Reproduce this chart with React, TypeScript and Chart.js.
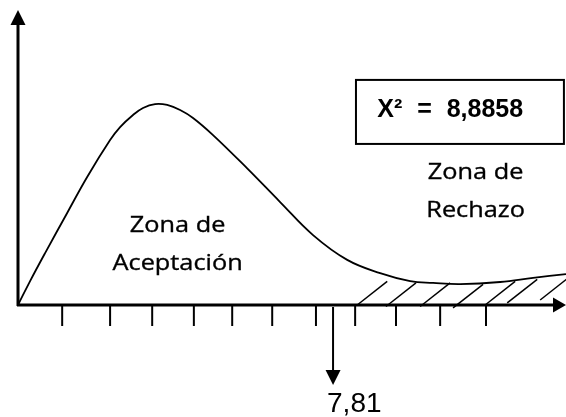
import { useEffect, useRef } from "react";
import { Chart, registerables } from "chart.js";

Chart.register(...registerables);

// ---- data (abstract axis units) ----
const curveX = [0, 0.29, 0.65, 1.18, 1.66, 2.21, 2.45, 2.76, 3.0, 3.29, 3.58, 3.89, 4.2, 4.68, 5.5, 6.29, 7.08, 7.9, 8.69, 9.41, 9.96, 10.61, 11.57, 12.36, 13.15];
const curveY = [0, 0.81, 1.76, 3.12, 4.34, 5.59, 6.03, 6.44, 6.68, 6.81, 6.78, 6.61, 6.34, 5.76, 4.63, 3.49, 2.37, 1.53, 1.08, 0.81, 0.75, 0.71, 0.78, 0.92, 1.05];
const tickX = [1.06, 2.21, 3.22, 4.22, 5.14, 6.1, 7.15, 8.09, 9.07, 10.13, 11.23];
const hatchX = [8.14, 8.83, 9.65, 10.44, 11.21, 11.74, 12.53];
const hatchY = [0, -0.05, -0.05, -0.1, 0, 0.07, 0.17];
const criticalX = 7.56;
const criticalLabel = "7,81";
const statLabel = "X² = 8,8858";
const acceptLabel = ["Zona de", "Aceptación"];
const rejectLabel = ["Zona de", "Rechazo"];

// ---- layout / style constants ----
const X_MAX = 13.15;
const Y_MAX = 10;
const HATCH_DX = 0.72;
const HATCH_DY = 0.8;
const BOX = { x0: 8.11, x1: 13.1, yTop: 7.63, yBot: 5.46 };
const STAT_POS = { x: 8.62, y: 6.37 };
const ACCEPT_POS = { x: 3.83, y: 2.47, y2: 1.19 };
const REJECT_POS = { x: 10.98, y: 4.27, y2: 2.98 };
const SANS = "'Open Sans', 'Noto Sans', sans-serif";
const TEXT_SCALE_X = 1.15;

function drawStretched(ctx: CanvasRenderingContext2D, text: string, cx: number, by: number) {
  ctx.save();
  ctx.translate(cx, by);
  ctx.scale(TEXT_SCALE_X, 1);
  ctx.textAlign = "center";
  ctx.textBaseline = "alphabetic";
  ctx.fillText(text, 0, 0);
  ctx.lineWidth = 0.35;
  ctx.strokeText(text, 0, 0);
  ctx.restore();
}

const overlay = {
  id: "overlay",
  beforeDatasetsDraw(chart: any) {
    const { ctx, scales } = chart;
    const x = scales.x, y = scales.y;
    ctx.save();
    ctx.strokeStyle = "#000";
    ctx.lineWidth = 1.5;
    hatchX.forEach((hx, i) => {
      ctx.beginPath();
      ctx.moveTo(x.getPixelForValue(hx), y.getPixelForValue(hatchY[i]));
      ctx.lineTo(x.getPixelForValue(hx + HATCH_DX), y.getPixelForValue(hatchY[i] + HATCH_DY));
      ctx.stroke();
    });
    ctx.restore();
  },
  afterDatasetsDraw(chart: any) {
    const { ctx, scales } = chart;
    const x = scales.x, y = scales.y;
    const x0 = x.getPixelForValue(0);
    const y0 = y.getPixelForValue(0);
    const yTop = y.getPixelForValue(Y_MAX);
    const xEnd = x.getPixelForValue(X_MAX);
    ctx.save();
    ctx.strokeStyle = "#000";
    ctx.fillStyle = "#000";

    // y axis
    ctx.lineWidth = 3;
    ctx.beginPath();
    ctx.moveTo(x0, y0 + 1);
    ctx.lineTo(x0, yTop + 12);
    ctx.stroke();
    ctx.beginPath();
    ctx.moveTo(x0, yTop);
    ctx.lineTo(x0 - 7.5, yTop + 15);
    ctx.lineTo(x0 + 7.5, yTop + 15);
    ctx.closePath();
    ctx.fill();

    // x axis
    ctx.beginPath();
    ctx.moveTo(x0 - 1, y0);
    ctx.lineTo(xEnd - 10, y0);
    ctx.stroke();
    ctx.beginPath();
    ctx.moveTo(xEnd, y0);
    ctx.lineTo(xEnd - 13, y0 - 7.5);
    ctx.lineTo(xEnd - 13, y0 + 7.5);
    ctx.closePath();
    ctx.fill();

    // ticks
    ctx.lineWidth = 2;
    tickX.forEach((t) => {
      const px = x.getPixelForValue(t);
      ctx.beginPath();
      ctx.moveTo(px, y0);
      ctx.lineTo(px, y0 + 21);
      ctx.stroke();
    });

    // critical value arrow
    const cx = x.getPixelForValue(criticalX);
    ctx.beginPath();
    ctx.moveTo(cx, y0 + 2);
    ctx.lineTo(cx, y0 + 67);
    ctx.stroke();
    ctx.beginPath();
    ctx.moveTo(cx, y0 + 80);
    ctx.lineTo(cx - 7.5, y0 + 65);
    ctx.lineTo(cx + 7.5, y0 + 65);
    ctx.closePath();
    ctx.fill();
    ctx.font = "28px 'Liberation Sans', Arial, sans-serif";
    ctx.textAlign = "left";
    ctx.textBaseline = "alphabetic";
    ctx.fillText(criticalLabel, cx - 6, y0 + 107);

    // statistic box
    const bx0 = x.getPixelForValue(BOX.x0);
    const bx1 = x.getPixelForValue(BOX.x1);
    const by0 = y.getPixelForValue(BOX.yTop);
    const by1 = y.getPixelForValue(BOX.yBot);
    ctx.lineWidth = 2;
    ctx.strokeRect(bx0, by0, bx1 - bx0, by1 - by0);
    ctx.font = "bold 25px 'Liberation Sans', Arial, sans-serif";
    (ctx as any).wordSpacing = "8px";
    ctx.fillText(statLabel, x.getPixelForValue(STAT_POS.x), y.getPixelForValue(STAT_POS.y));
    (ctx as any).wordSpacing = "0px";

    // zone labels
    ctx.font = `22px ${SANS}`;
    drawStretched(ctx, acceptLabel[0], x.getPixelForValue(ACCEPT_POS.x), y.getPixelForValue(ACCEPT_POS.y));
    drawStretched(ctx, acceptLabel[1], x.getPixelForValue(ACCEPT_POS.x), y.getPixelForValue(ACCEPT_POS.y2));
    drawStretched(ctx, rejectLabel[0], x.getPixelForValue(REJECT_POS.x), y.getPixelForValue(REJECT_POS.y));
    drawStretched(ctx, rejectLabel[1], x.getPixelForValue(REJECT_POS.x), y.getPixelForValue(REJECT_POS.y2));
    ctx.restore();
  },
};

export default function App() {
  const ref = useRef<HTMLCanvasElement>(null);
  useEffect(() => {
    const canvas = ref.current!;
    const chart = new Chart(canvas, {
      type: "line",
      data: {
        datasets: [
          {
            data: curveX.map((v, i) => ({ x: v, y: curveY[i] })),
            borderColor: "#000",
            borderWidth: 1.8,
            pointRadius: 0,
            tension: 0.4,
            fill: false,
            clip: false as any,
          },
        ],
      },
      options: {
        animation: false,
        responsive: false,
        devicePixelRatio: 1,
        layout: { padding: { left: 18, top: 10, right: 0, bottom: 112 } },
        scales: {
          x: { type: "linear", min: 0, max: X_MAX, display: false },
          y: { type: "linear", min: 0, max: Y_MAX, display: false },
        },
        plugins: { legend: { display: false }, tooltip: { enabled: false } },
        events: [],
      },
      plugins: [overlay],
    });
    return () => chart.destroy();
  }, []);
  return (
    <div style={{ position: "fixed", left: 0, top: 0, width: 566, height: 417, background: "#fff" }}>
      <canvas ref={ref} width={566} height={417} style={{ display: "block" }} />
    </div>
  );
}
